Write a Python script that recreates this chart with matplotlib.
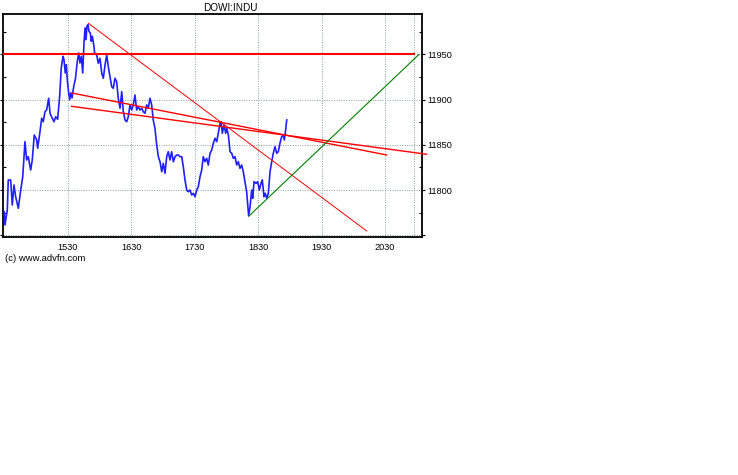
import numpy as np
import matplotlib.pyplot as plt

plt.rcParams['font.family'] = ['Liberation Sans', 'DejaVu Sans']

# intraday DOWI:INDU, minutes after 14:30 and index level
minutes = [0, 0.7, 2.9, 3.8, 6.1, 7.6, 9.2, 10.8, 13.3, 15.6, 17.5, 19.6, 21.2, 22.7, 25.0,
           26.5, 28.4, 30.7, 31.6, 33.8, 35.4, 36.9, 38.5, 40.1, 42.0, 43.3, 45.4, 47.0, 48.7,
           50.5, 52.4, 53.9, 55.6, 56.5, 57.7, 58.7, 59.6, 60.9, 61.9, 62.8, 64.1, 65.0, 66.0,
           67.2, 68.1, 69.1, 70.4, 71.6, 72.9, 74.2, 75.4, 76.4, 77.3, 78.2, 79.2, 80.1, 81.4,
           82.3, 83.3, 84.6, 85.5, 87.4, 88.9, 90.5, 92.2, 93.7, 95.3, 96.9, 98.4, 100.0, 101.6,
           103.1, 104.7, 106.3, 107.8, 109.5, 111.1, 112.6, 114.2, 115.8, 117.3, 118.9, 120.5,
           122.0, 123.6, 125.2, 126.8, 128.4, 130.0, 131.5, 133.1, 134.7, 136.2, 137.8, 139.4,
           140.9, 142.5, 144.2, 145.7, 147.3, 148.9, 150.4, 152.0, 153.6, 155.1, 156.7, 158.3,
           159.9, 161.5, 163.1, 164.6, 166.2, 167.8, 169.3, 170.9, 172.5, 174.0, 175.6, 177.2,
           178.8, 180.4, 182.0, 183.5, 185.1, 186.7, 188.2, 189.8, 191.4, 192.9, 194.6, 196.2,
           197.7, 199.3, 200.9, 202.4, 204.1, 205.0, 206.2, 207.8, 209.4, 210.4, 211.9, 213.5,
           215.1, 216.6, 218.2, 219.8, 221.3, 222.9, 224.5, 226.0, 227.6, 229.2, 230.2, 231.1,
           232.4, 234.0, 234.9, 236.2, 238.1, 239.6, 241.2, 242.8, 244.0, 245.6, 246.8, 248.2,
           249.7, 251.3, 252.9, 254.4, 256.0, 257.6, 259.1, 260.7, 262.3, 263.8, 264.8, 265.7,
           267.1]
values = [11776.0, 11761.3, 11777.9, 11811.1, 11811.1, 11783.4, 11805.5, 11792.6, 11779.8,
          11800.0, 11814.7, 11853.4, 11833.2, 11836.8, 11822.1, 11833.2, 11860.8, 11855.3,
          11846.1, 11864.4, 11879.3, 11875.5, 11886.5, 11888.4, 11901.4, 11884.8, 11879.3,
          11875.5, 11881.0, 11878.2, 11903.6, 11934.9, 11947.8, 11944.0, 11929.3, 11938.5,
          11921.9, 11907.2, 11899.8, 11907.2, 11901.7, 11909.1, 11916.4, 11921.9, 11931.2,
          11942.3, 11951.4, 11940.4, 11947.8, 11929.3, 11962.5, 11979.1, 11966.1, 11981.0,
          11982.7, 11975.4, 11973.5, 11964.4, 11969.9, 11960.6, 11951.4, 11949.2, 11940.1,
          11945.6, 11929.0, 11923.5, 11938.2, 11949.2, 11936.3, 11925.2, 11914.2, 11912.4,
          11923.5, 11919.7, 11901.4, 11890.3, 11908.7, 11886.5, 11877.4, 11875.5, 11881.0,
          11894.0, 11888.4, 11894.0, 11905.0, 11888.4, 11892.1, 11888.4, 11890.3, 11886.5,
          11884.8, 11894.0, 11890.3, 11901.4, 11894.0, 11877.4, 11868.2, 11849.7, 11836.8,
          11831.3, 11820.2, 11829.5, 11818.5, 11836.8, 11842.3, 11833.2, 11842.3, 11831.3,
          11836.8, 11838.7, 11838.7, 11836.8, 11836.8, 11825.8, 11811.1, 11800.0, 11798.1,
          11800.0, 11794.5, 11796.4, 11792.6, 11800.0, 11803.6, 11814.7, 11822.1, 11836.8,
          11831.3, 11835.0, 11827.6, 11840.6, 11844.2, 11851.6, 11857.1, 11853.4, 11862.7,
          11873.7, 11875.5, 11862.7, 11871.8, 11862.7, 11868.2, 11860.8, 11842.3, 11840.6,
          11835.0, 11836.8, 11827.6, 11831.3, 11824.0, 11827.6, 11820.2, 11809.2, 11798.1,
          11783.4, 11771.3, 11781.5, 11800.0, 11790.8, 11809.2, 11807.4, 11809.2, 11800.0,
          11807.4, 11811.1, 11792.6, 11796.4, 11790.8, 11796.4, 11820.2, 11831.3, 11840.6,
          11847.9, 11840.6, 11842.3, 11851.6, 11858.9, 11860.8, 11855.3, 11862.7, 11877.4]

# drawn trend lines (hours, level)
resistance = 11950
fall_x, fall_y = [15.825, 20.212], [11984.3, 11754.7]
upper_x, upper_y = [15.563, 20.527], [11907.2, 11838.7]
lower_x, lower_y = [15.563, 21.157], [11892.5, 11839.5]
support_x, support_y = [18.357, 21.036], [11771.3, 11949.8]
close_mark = 20.96

x_ticks = [15.5, 16.5, 17.5, 18.5, 19.5, 20.5]
x_labels = ['1530', '1630', '1730', '1830', '1930', '2030']
y_ticks = [11750, 11800, 11850, 11900, 11950]
y_labels = ['', '11800', '11850', '11900', '11950']
y_minor = [11775, 11825, 11875, 11925, 11975]

hours = 14.5 + np.array(minutes) / 60

W, H = 738, 475
fig = plt.figure(figsize=(W / 100, H / 100), dpi=100)
ax = fig.add_axes([3 / W, 1 - 236.7 / H, 419.3 / W, 222.7 / H])

grid_style = dict(color='#8c9a9a', linestyle=(0, (1, 1.5)), linewidth=0.7)
ax.grid(True, **grid_style)
ax.axvline(close_mark, **grid_style)

ax.plot(hours, values, color='#1f1fff', linewidth=1.2, zorder=3)
ax.plot([14.48, close_mark], [resistance, resistance], color='#ff0000', linewidth=1.5, zorder=4)
ax.plot(fall_x, fall_y, color='#ff0000', linewidth=0.7, zorder=4)
ax.plot(upper_x, upper_y, color='#ff0000', linewidth=1.0, zorder=4)
ax.plot(lower_x, lower_y, color='#ff0000', linewidth=1.0, zorder=4, clip_on=False)
ax.plot(support_x, support_y, color='#008000', linewidth=0.8, zorder=4)

ax.set_xlim(14.4805, 21.088)
ax.set_ylim(11748.4, 11994.5)

ax.set_xticks(x_ticks)
ax.set_xticklabels(x_labels)
ax.set_yticks(y_ticks)
ax.set_yticklabels(y_labels)
ax.set_yticks(y_minor, minor=True)

ax.tick_params(axis='x', length=0, pad=4.3, labelsize=6.6)
ax.tick_params(axis='y', which='major', left=True, right=True, labelleft=False,
               labelright=True, direction='out', length=2.5, width=0.8, pad=1, labelsize=6.6)
ax.tick_params(axis='y', which='minor', left=True, right=True, direction='in',
               length=2, width=0.8)
for s in ax.spines.values():
    s.set_linewidth(1.3)

fig.text(230 / W, 1 - 8 / H, 'DOWI:INDU', ha='center', va='center', fontsize=7.2)
fig.text(5 / W, 1 - 258.3 / H, '(c) www.advfn.com', ha='left', va='center', fontsize=6.8)

fig.savefig('out.png', dpi=100)
plt.close()
